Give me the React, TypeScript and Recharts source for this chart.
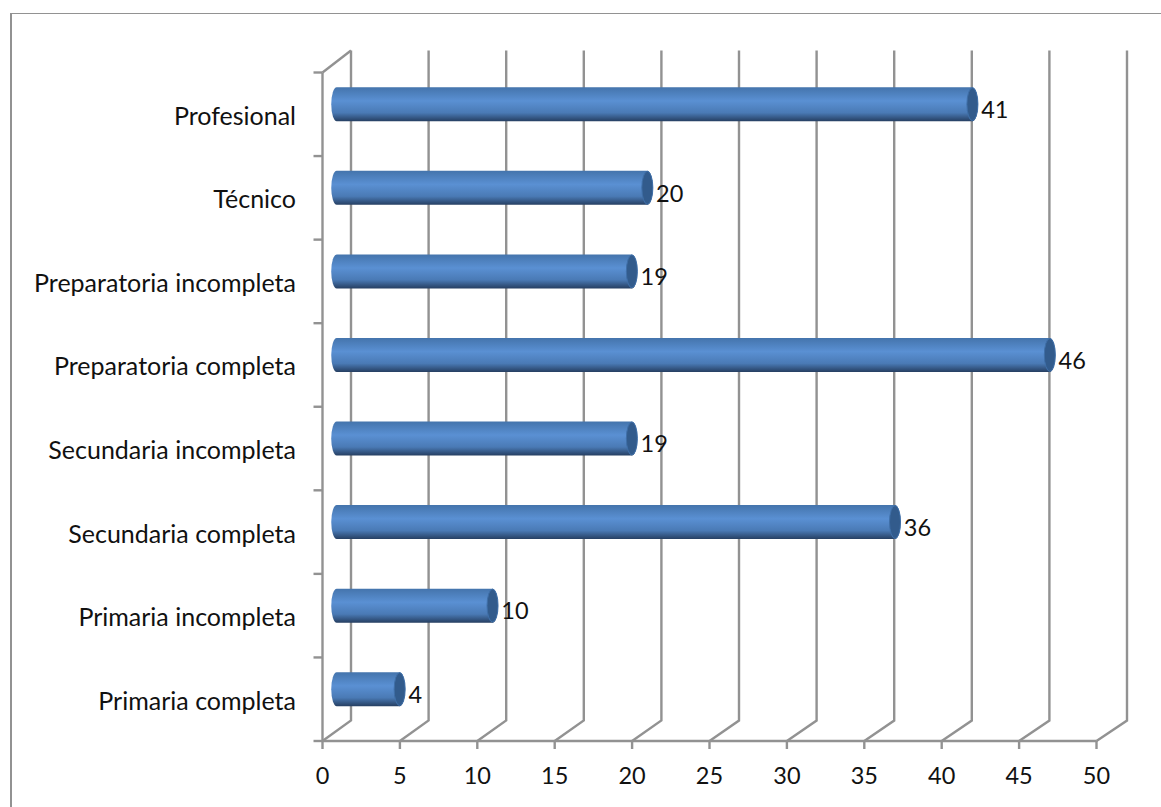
import React from "react";
import { BarChart, Bar, XAxis, YAxis, CartesianGrid, LabelList } from "recharts";

// Schooling levels, listed from the top row to the bottom row
const levels = [
  "Profesional",
  "Técnico",
  "Preparatoria incompleta",
  "Preparatoria completa",
  "Secundaria incompleta",
  "Secundaria completa",
  "Primaria incompleta",
  "Primaria completa",
];
const counts = [41, 20, 19, 46, 19, 36, 10, 4];
const xTicks = [0, 5, 10, 15, 20, 25, 30, 35, 40, 45, 50];

const rows = levels.map((level, i) => ({ level, count: counts[i] }));

const AXIS_GRAY = "#929292";
const FONT = "Lato, 'Open Sans', sans-serif";
const WIDTH = 1161;
const HEIGHT = 807;
const PLOT = { left: 322.5, top: 72.5, right: 1096.5, bottom: 741 };
const BAND = (PLOT.bottom - PLOT.top) / levels.length;
const LABEL_SIZE = 25;
const NUMBER_SIZE = 23.5;

// Pseudo-3D depth of the floor and back wall
const DEPTH_X = 28.5;
const DEPTH_Y = 20.5;
const CAP_RX = 5.5;

// Vertical grid line that runs along the floor and then up the back wall
const WallLine = (props: any) => {
  const { x1, y1, y2, index } = props;
  const top = Math.min(y1, y2);
  const bottom = Math.max(y1, y2);
  const x = x1;
  const dx = DEPTH_X + (2 * (x - PLOT.left)) / (PLOT.right - PLOT.left);
  const pts = `${x},${bottom} ${x + dx},${bottom - DEPTH_Y} ${x + dx},${top - DEPTH_Y - 1.5}`;
  return (
    <g key={`wall-${index}`}>
      <polyline points={pts} fill="none" stroke={AXIS_GRAY} strokeWidth={2.4} />
      {index === 0 ? (
        <line x1={x} y1={top} x2={x + dx} y2={top - DEPTH_Y - 1.5} stroke={AXIS_GRAY} strokeWidth={2.4} />
      ) : null}
    </g>
  );
};

// Horizontal cylinder standing halfway into the chart depth
const Cylinder = (props: any) => {
  const { x, y, width, height } = props;
  const x0 = x + DEPTH_X / 2;
  const x1 = x0 + width + 1;
  const top = y - DEPTH_Y / 2;
  const bottom = top + height;
  const ry = height / 2;
  const body =
    `M${x0},${top} L${x1},${top} A${CAP_RX},${ry} 0 0 1 ${x1},${bottom} ` +
    `L${x0},${bottom} A${CAP_RX},${ry} 0 0 1 ${x0},${top} Z`;
  return (
    <g>
      <path d={body} fill="url(#cylinderBody)" />
      <ellipse cx={x1} cy={top + ry} rx={CAP_RX} ry={ry - 0.5} fill="#325b8c" stroke="#3f6fa8" strokeWidth={1} />
    </g>
  );
};

// Category label plus the tick marks that sit on the row boundaries
const LevelTick = (props: any) => {
  const { x, y, payload, index } = props;
  const axisX = PLOT.left;
  const upper = y - BAND / 2;
  const lower = y + BAND / 2;
  return (
    <g>
      <line x1={axisX - 9} y1={upper} x2={axisX} y2={upper} stroke={AXIS_GRAY} strokeWidth={2.4} />
      {index === levels.length - 1 ? (
        <line x1={axisX - 9} y1={lower} x2={axisX} y2={lower} stroke={AXIS_GRAY} strokeWidth={2.4} />
      ) : null}
      <text x={x} y={y + 10.5} textAnchor="end" fontFamily={FONT} fontSize={LABEL_SIZE} fill="#111">
        {payload.value}
      </text>
    </g>
  );
};

// Count printed just past the cap of each cylinder
const CountLabel = (props: any) => {
  const { x, y, width, height, value } = props;
  return (
    <text
      x={x + width + 24}
      y={y + height / 2 + 3.5}
      fontFamily={FONT}
      fontSize={NUMBER_SIZE}
      fill="#111"
    >
      {value}
    </text>
  );
};

export default function App() {
  return (
    <div style={{ position: "absolute", left: 0, top: 0, width: WIDTH, height: HEIGHT, background: "#fff", overflow: "hidden" }}>
      <div
        style={{
          position: "absolute",
          left: 10,
          top: 13,
          right: 0,
          bottom: 0,
          borderLeft: `2px solid ${AXIS_GRAY}`,
          borderTop: `1.5px solid ${AXIS_GRAY}`,
        }}
      />
      <div style={{ position: "absolute", left: 0, top: 0 }}>
        <BarChart
          width={WIDTH}
          height={HEIGHT}
          layout="vertical"
          data={rows}
          margin={{
            top: PLOT.top,
            right: WIDTH - PLOT.right,
            bottom: HEIGHT - PLOT.bottom - 50,
            left: 0,
          }}
          barSize={34}
        >
          <defs>
            <linearGradient id="cylinderBody" x1="0" y1="0" x2="0" y2="1">
              <stop offset="0" stopColor="#4474ac" />
              <stop offset="0.4" stopColor="#5a90d3" />
              <stop offset="0.75" stopColor="#4a7ab5" />
              <stop offset="1" stopColor="#263f62" />
            </linearGradient>
          </defs>
          <CartesianGrid horizontal={false} vertical={(p: any) => <WallLine {...p} />} />
          <XAxis
            type="number"
            domain={[0, 50]}
            ticks={xTicks}
            interval={0}
            height={50}
            tickSize={8}
            tickMargin={18}
            axisLine={{ stroke: AXIS_GRAY, strokeWidth: 2.4 }}
            tickLine={{ stroke: AXIS_GRAY, strokeWidth: 2.4 }}
            tick={{ fontFamily: FONT, fontSize: NUMBER_SIZE, fill: "#111" }}
          />
          <YAxis
            type="category"
            dataKey="level"
            width={PLOT.left}
            interval={0}
            tickLine={false}
            tickMargin={0}
            tickSize={26.5}
            axisLine={{ stroke: AXIS_GRAY, strokeWidth: 2.4 }}
            tick={(p: any) => <LevelTick {...p} />}
          />
          <Bar dataKey="count" isAnimationActive={false} shape={(p: any) => <Cylinder {...p} />}>
            <LabelList dataKey="count" content={(p: any) => <CountLabel {...p} />} />
          </Bar>
        </BarChart>
      </div>
    </div>
  );
}
